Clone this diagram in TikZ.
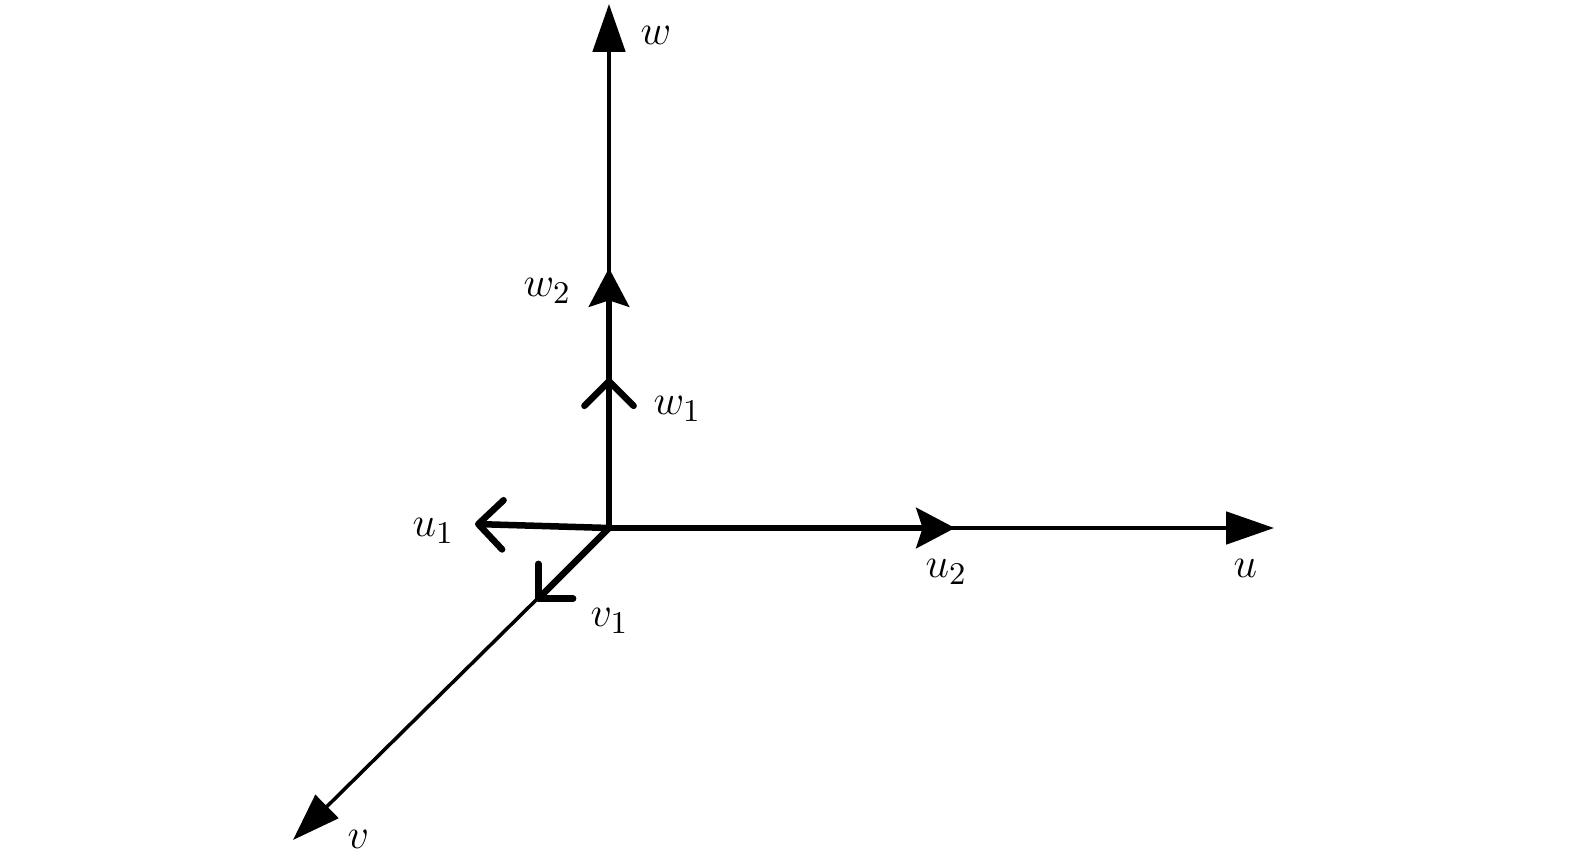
\documentclass[tikz,border=0pt]{standalone}
\usetikzlibrary{arrows.meta}
\begin{document}
\begin{tikzpicture}[x=0.01cm,y=-0.01cm,
  axis/.style={line width=1pt,-{Triangle[length=13.6pt,width=9.2pt]}},
  vecs/.style={line width=1.85pt,-{Stealth[length=11pt,width=11.4pt,inset=1.8pt]}},
  vecb/.style={line width=1.85pt,line cap=round,-{Straight Barb[length=7pt,width=14pt,round]}},
  lab/.style={anchor=base west,inner sep=0pt,font=\fontsize{13}{15}\selectfont}]
\useasboundingbox (0,0) rectangle (1575,864);
\coordinate (O) at (609,528);
\coordinate (U) at (1274,528);
\coordinate (W) at (609,4);
\coordinate (V) at (293,840);
\coordinate (U2) at (955,528);
\coordinate (W2) at (609,268);
\coordinate (W1) at (609,378);
\coordinate (U1) at (475,524);
\coordinate (V1) at (536,601);
\draw[axis] (O) -- (U);
\draw[axis] (O) -- (W);
\draw[axis] (O) -- (V);
\draw[vecs] (O) -- (U2);
\draw[vecs] (O) -- (W2);
\draw[vecb] (O) -- (W1);
\draw[vecb] (O) -- (U1);
\draw[vecb] (O) -- (V1);
\node[lab] (lw) at (640,45) {$w$};
\node[lab] (lw2) at (523,297) {$w_2$};
\node[lab] (lw1) at (653,415) {$w_1$};
\node[lab] (lu1) at (412,537) {$u_1$};
\node[lab] (lv1) at (590,627) {$v_1$};
\node[lab] (lu2) at (925,578) {$u_2$};
\node[lab] (lu) at (1233,578) {$u$};
\node[lab] (lv) at (347,848) {$v$};
\end{tikzpicture}
\end{document}
